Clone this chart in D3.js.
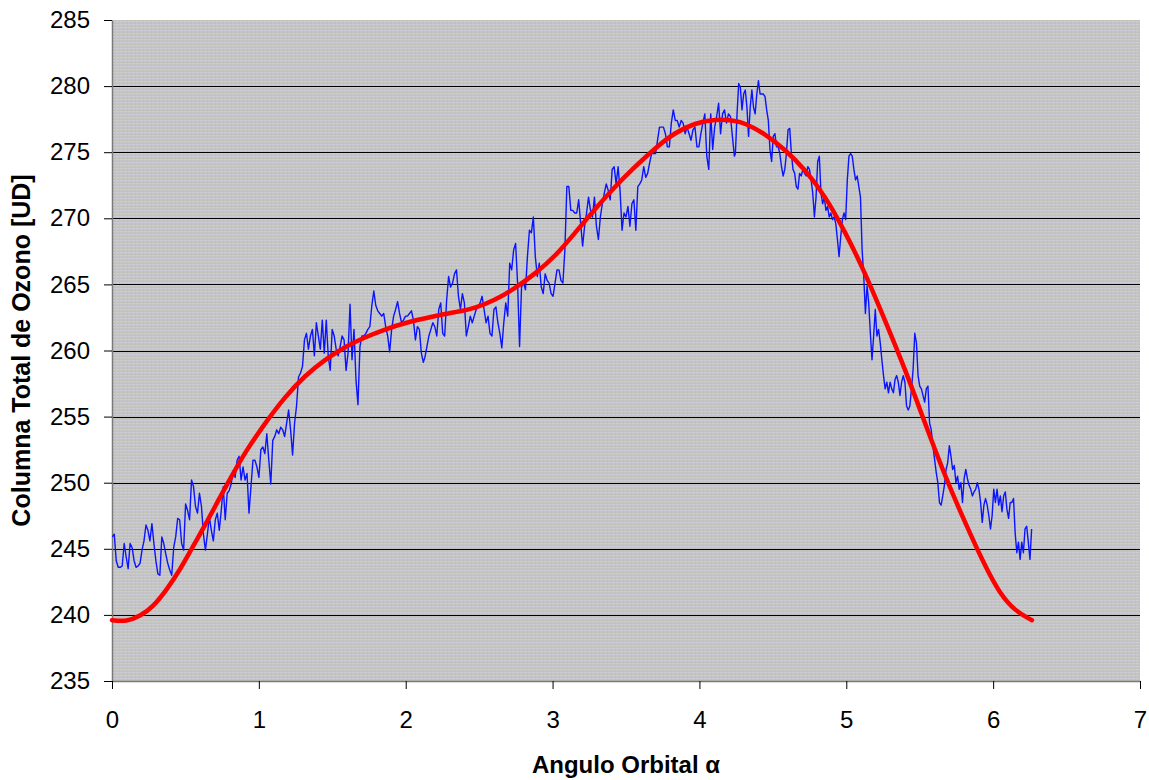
<!DOCTYPE html>
<html>
<head>
<meta charset="utf-8">
<script src="https://cdn.jsdelivr.net/npm/d3@7"></script>
<style>
  body { margin: 0; background: #ffffff; }
  svg { display: block; }
</style>
</head>
<body>
<svg id="chart" width="1149" height="780"></svg>
<script>
// Daily total ozone column against orbital angle, in three consecutive stretches
// (samples evenly spaced inside each stretch), plus the smooth fitted curve.
const seg1Range = [0.002, 2.120];
const seg1Ozone = [
  245.9, 246.1, 244.1, 243.6, 243.6, 243.7, 245.4, 244.4, 243.5, 245.4,
  245.1, 244.1, 243.6, 243.7, 243.9, 244.9, 245.6, 246.8, 246.4, 245.6,
  246.9, 245.4, 244.1, 243.1, 243.0, 245.9, 245.4, 244.6, 243.9, 243.4,
  243.0, 245.1, 245.9, 247.3, 247.2, 245.4, 244.9, 248.4, 247.9, 247.2,
  250.2, 249.7, 248.2, 247.7, 249.2, 248.2, 246.1, 244.9, 246.1, 247.4,
  246.4, 245.6, 247.2, 247.7, 246.4, 247.9, 249.7, 247.2, 249.2,
  249.4, 249.9, 250.9, 250.4, 251.7, 252.0, 250.2, 251.2, 250.2, 250.7,
  247.7, 249.7, 251.7, 251.7, 251.2, 250.4, 252.5, 252.7, 252.2, 253.7,
  251.7, 249.9, 253.2, 253.5, 254.0, 253.7, 254.2, 254.0, 253.5, 254.5,
  255.5, 254.0, 252.1, 254.5, 255.8, 258.0, 258.3, 258.8, 260.8, 261.3,
  260.1, 261.1, 261.6, 259.6, 262.1, 261.1, 260.1, 262.3, 259.8, 262.3,
  259.6, 258.5, 261.6, 261.1, 260.1, 259.6, 260.3, 261.1, 260.8, 258.5,
  259.8, 263.5, 259.3, 261.6, 257.8, 255.9, 260.3, 261.1, 261.1, 261.3,
  261.6, 261.8, 263.4, 264.5, 263.4, 263.0, 262.8, 262.6, 262.8, 261.8,
  261.1, 259.9, 261.6, 262.6, 263.1, 263.7, 262.8, 262.1, 262.3, 262.6,
  262.6, 262.8, 263.0, 262.3, 260.8, 261.8, 261.6, 259.8, 259.1
];

const seg2Range = [2.131, 4.238];
const seg2Ozone = [
  259.5, 260.3, 261.1, 261.6, 262.1, 261.8, 261.1, 263.1, 263.6, 261.3,
  261.1, 263.8, 265.6, 264.8, 265.1, 265.8, 266.1, 264.1, 263.1, 264.3,
  263.6, 261.1, 261.8, 262.6, 262.1, 262.6, 263.1, 263.3, 263.6, 264.1,
  263.1, 262.1, 262.6, 261.3, 261.1, 263.1, 263.3, 262.1, 261.3, 260.2,
  262.1, 263.6, 262.6, 266.6, 266.1, 267.6, 268.1, 265.1, 260.3, 264.8,
  265.1, 264.6, 267.1, 269.1, 268.9, 270.1, 267.1, 265.6, 266.6, 264.8,
  264.3, 265.8, 265.3, 265.1, 264.3, 264.1, 265.1, 266.1, 266.1, 265.3,
  265.1, 267.6, 272.4, 272.4, 270.6, 270.6, 270.4, 270.4, 271.4, 269.6,
  267.9, 269.4, 270.4, 271.6, 270.6, 270.1, 271.6, 269.4, 268.4, 270.1,
  271.1, 271.9, 272.6, 272.1, 271.4, 273.7, 273.9, 272.6, 273.9, 272.1,
  269.1, 270.4, 270.1, 270.9, 269.4, 271.1, 271.4, 269.1, 272.4, 272.6,
  272.9, 273.9, 273.1, 273.4, 274.2, 274.9, 274.9, 274.9, 275.9, 276.9,
  276.9, 276.9, 276.4, 275.4, 275.4, 277.2, 278.2, 277.4, 277.4, 276.9,
  277.4, 277.2, 276.4, 276.9, 276.4, 275.9, 276.7, 276.9, 275.4, 275.4,
  276.4, 277.2, 277.9, 274.7, 273.7, 277.9, 275.2, 276.9, 277.7, 278.7,
  276.4, 277.9, 278.2, 277.2, 277.9, 277.7, 276.2, 274.7
];

const seg3Range = [4.245, 6.262];
const seg3Ozone = [
  274.9, 277.9, 280.2, 279.9, 278.2, 279.4, 279.7, 278.4, 276.2, 278.4,
  279.7, 278.4, 277.9, 279.4, 280.4, 279.4, 279.4, 279.4, 279.2, 278.2,
  277.4, 275.2, 274.3, 276.2, 276.4, 275.4, 275.4, 274.9, 273.9, 273.2,
  273.7, 274.9, 276.7, 276.8, 274.9, 273.7, 273.4, 272.4, 272.2, 273.4,
  273.2, 273.7, 273.4, 273.2, 273.9, 273.7, 272.9, 271.9, 270.1, 271.6,
  274.3, 274.7, 271.9, 271.1, 271.6, 270.6, 270.9, 270.1, 270.4, 269.9,
  270.1, 269.6, 268.4, 267.1, 268.6, 269.9, 270.4, 269.9, 272.9, 274.7,
  274.9, 274.7, 273.7, 272.9, 273.2, 272.4, 271.6, 267.6, 265.6, 262.8,
  264.9, 263.6, 261.3, 259.3, 261.1, 263.1, 261.1, 261.6, 260.6, 259.3,
  258.1, 257.1, 257.6, 256.8, 257.6, 257.1, 256.8, 257.8, 258.1, 257.6,
  256.6, 257.6, 258.1, 257.6, 255.8, 255.5, 255.8, 257.1, 258.6, 261.3,
  260.6, 258.1, 257.3, 257.1, 256.6, 256.1, 257.1, 257.3, 254.5, 254.0,
  252.8, 251.8, 250.8, 250.0, 248.5, 248.3, 249.0, 249.8, 251.0, 251.5,
  252.8, 252.0, 251.0, 251.3, 250.0, 250.5, 249.5, 250.0, 248.5, 250.3,
  251.0, 250.3, 249.8, 249.5, 249.0, 249.3, 249.5, 250.0, 249.5, 248.5,
  247.0, 248.3, 248.8, 248.3, 247.5, 246.5, 247.5, 249.5, 248.5, 249.5,
  248.3, 249.0, 247.8, 249.0, 249.3, 248.0, 247.3, 248.5, 248.5, 248.8,
  246.2, 244.7, 245.5, 244.2, 245.5, 244.7, 246.5, 246.7, 245.5, 244.2,
  246.5
];

// Fitted curve
const fitAlpha = [
  0.000, 0.100, 0.191, 0.279, 0.372, 0.463, 0.552, 0.645, 0.735, 0.815,
  0.906, 1.042, 1.178, 1.314, 1.450, 1.587, 1.723, 1.859, 1.995, 2.199,
  2.336, 2.472, 2.608, 2.744, 2.880, 3.016, 3.153, 3.289, 3.425, 3.561,
  3.697, 3.834, 3.970, 4.106, 4.242, 4.310, 4.446, 4.583, 4.719, 4.855,
  4.991, 5.127, 5.263, 5.400, 5.536, 5.672, 5.808, 5.944, 6.046, 6.149,
  6.264
];
const fitOzone = [
  239.6, 239.5, 239.9, 240.6, 241.9, 243.4, 245.2, 247.0, 248.9, 250.5,
  252.3, 254.5, 256.5, 258.1, 259.3, 260.3, 261.0, 261.6, 262.1, 262.6,
  262.9, 263.2, 263.8, 264.7, 265.8, 267.1, 268.9, 270.7, 272.4, 273.9,
  275.3, 276.5, 277.2, 277.5, 277.4, 277.2, 276.4, 275.2, 273.7, 271.7,
  269.0, 265.9, 262.3, 258.6, 254.5, 250.5, 247.0, 243.7, 241.6, 240.3,
  239.6
];

const xTicks = [0, 1, 2, 3, 4, 5, 6, 7];
const yTicks = [235, 240, 245, 250, 255, 260, 265, 270, 275, 280, 285];
const gridValues = [240, 245, 250, 255, 260, 265, 270, 275, 280];

const xTitle = "Angulo Orbital α";
const yTitle = "Columna Total de Ozono [UD]";

// ---- layout ----
const W = 1149, H = 780;
const margin = { top: 20, right: 9, bottom: 99, left: 112 };
const FONT = "'Liberation Sans', Arial, Helvetica, sans-serif";

const svg = d3.select("#chart");
const x = d3.scaleLinear().domain([0, 7]).range([margin.left, W - margin.right]);
const y = d3.scaleLinear().domain([235, 285]).range([H - margin.bottom, margin.top]);

// grainy grey plot background
const defs = svg.append("defs");
const pat = defs.append("pattern")
  .attr("id", "grain").attr("patternUnits", "userSpaceOnUse")
  .attr("width", 4).attr("height", 3);
pat.append("rect").attr("width", 4).attr("height", 3).attr("fill", "#c4c4c4");
pat.append("rect").attr("x", 0).attr("y", 0).attr("width", 3).attr("height", 1).attr("fill", "#cdcdd9");
pat.append("rect").attr("x", 1).attr("y", 2).attr("width", 3).attr("height", 1).attr("fill", "#c1c1b4");

svg.append("rect")
  .attr("x", x(0)).attr("y", y(285))
  .attr("width", x(7) - x(0)).attr("height", y(235) - y(285))
  .attr("fill", "url(#grain)");

// horizontal grid
svg.append("g").selectAll("line").data(gridValues).join("line")
  .attr("x1", x(0)).attr("x2", x(7))
  .attr("y1", d => Math.round(y(d)) + 0.5).attr("y2", d => Math.round(y(d)) + 0.5)
  .attr("stroke", "#000").attr("stroke-width", 1);

// axes
const yAxis = svg.append("g")
  .attr("transform", `translate(${x(0)},0)`)
  .call(d3.axisLeft(y).tickValues(yTicks).tickSize(8).tickSizeOuter(0).tickPadding(14).tickFormat(d3.format("d")));
const xAxis = svg.append("g")
  .attr("transform", `translate(0,${y(235)})`)
  .call(d3.axisBottom(x).tickValues(xTicks).tickSize(8).tickSizeOuter(0).tickPadding(22).tickFormat(d3.format("d")));

[yAxis, xAxis].forEach(g => {
  g.select(".domain").attr("stroke", "#7a7a7a").attr("stroke-width", 1.5);
  g.selectAll(".tick line").attr("stroke", "#000");
  g.selectAll("text").attr("font-family", FONT).attr("font-size", 24).attr("fill", "#000");
});

// measured series
const series = [];
[[seg1Range, seg1Ozone], [seg2Range, seg2Ozone], [seg3Range, seg3Ozone]].forEach(([r, vals]) => {
  const step = (r[1] - r[0]) / (vals.length - 1);
  vals.forEach((v, i) => series.push([r[0] + i * step, v]));
});

svg.append("path")
  .datum(series)
  .attr("fill", "none")
  .attr("stroke", "#0a14ff")
  .attr("stroke-width", 1.4)
  .attr("stroke-linejoin", "round")
  .attr("d", d3.line().x(d => x(d[0])).y(d => y(d[1])));

// fitted curve
const fit = fitAlpha.map((a, i) => [a, fitOzone[i]]);
svg.append("path")
  .datum(fit)
  .attr("fill", "none")
  .attr("stroke", "#ff0000")
  .attr("stroke-width", 4.5)
  .attr("stroke-linecap", "round")
  .attr("stroke-linejoin", "round")
  .attr("d", d3.line().curve(d3.curveBasis).x(d => x(d[0])).y(d => y(d[1])));

// titles
svg.append("text")
  .attr("x", (x(0) + x(7)) / 2).attr("y", 773)
  .attr("text-anchor", "middle")
  .attr("font-family", FONT).attr("font-size", 24).attr("font-weight", "bold")
  .text(xTitle);

svg.append("text")
  .attr("transform", `translate(30,${(y(235) + y(285)) / 2}) rotate(-90)`)
  .attr("text-anchor", "middle")
  .attr("font-family", FONT).attr("font-size", 25).attr("font-weight", "bold")
  .text(yTitle);
</script>
</body>
</html>
